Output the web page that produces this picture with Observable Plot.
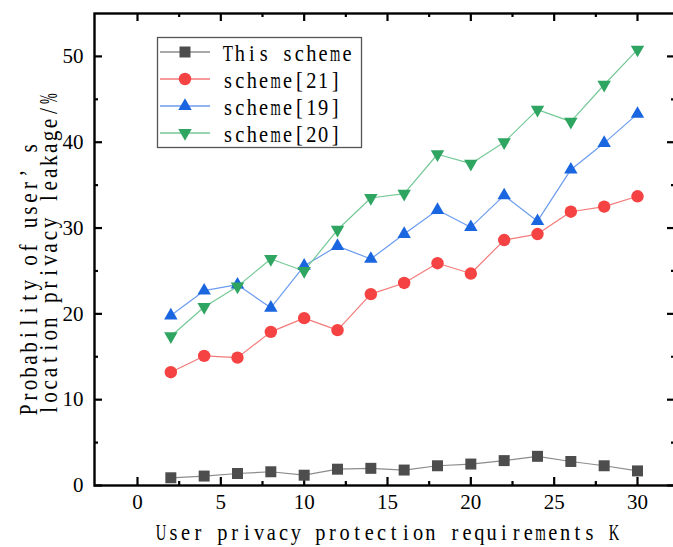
<!DOCTYPE html>
<html><head><meta charset="utf-8">
<script src="https://cdn.jsdelivr.net/npm/d3@7"></script>
<script src="https://cdn.jsdelivr.net/npm/@observablehq/plot@0.6"></script>
<style>body{margin:0;background:#fff} #chart{width:673px;height:547px;overflow:hidden}</style>
</head><body><div id="chart"></div>
<script>
const K = [2,4,6,8,10,12,14,16,18,20,22,24,26,28,30];
const thisScheme = [0.9,1.1,1.4,1.6,1.2,1.9,2.0,1.8,2.3,2.5,2.9,3.4,2.8,2.3,1.7];
const scheme21 = [13.2,15.1,14.9,17.9,19.5,18.1,22.3,23.6,25.9,24.7,28.6,29.3,31.9,32.5,33.7];
const scheme19 = [19.8,22.7,23.4,20.7,25.6,27.9,26.4,29.3,32.1,30.1,33.8,30.8,36.8,39.9,43.3];
const scheme20 = [17.4,20.8,23.2,26.4,25.0,29.8,33.5,34.0,38.6,37.5,40.0,43.8,42.4,46.7,50.8];
const seriesNames = ["This scheme","scheme[21]","scheme[19]","scheme[20]"];
const seriesValues = [thisScheme, scheme21, scheme19, scheme20];
const markerColors = ["#4d4d4d","#f54343","#1a66e0","#2fa562"];
const lineColors = ["#8c8c8c","#f47a7a","#6c9cef","#74c996"];
const symbols = ["square","circle","triangle","triangle"];
const rotations = [0,0,0,180];
const radii = [6.2,6.2,5.0,5.0];
const xMajor = [0,5,10,15,20,25,30];
const xMinor = [2.5,7.5,12.5,17.5,22.5,27.5];
const yMajor = [0,10,20,30,40,50];
const yMinor = [5,15,25,35,45];
const xTitle = "User privacy protection requirements K";
const yTitle = ["Probability of user\u2019s", "location privacy leakage/%"];

const W = 673, H = 547, mL = 94, mR = -2, mT = 13, mB = 62;
const iW = W - mL - mR, iH = H - mT - mB;

const data = seriesNames.flatMap((s, i) => K.map((k, j) => ({k, v: seriesValues[i][j], s, i})));

const tickMarks = [
  Plot.tickX(xMajor, {x: d => d, insetTop: iH - 8, strokeWidth: 2.2}),
  Plot.tickX(xMinor, {x: d => d, insetTop: iH - 4, strokeWidth: 2.2}),
  Plot.tickX(xMajor, {x: d => d, insetBottom: iH - 8, strokeWidth: 2.2}),
  Plot.tickX(xMinor, {x: d => d, insetBottom: iH - 4, strokeWidth: 2.2}),
  Plot.tickY(yMajor, {y: d => d, insetRight: iW - 8, strokeWidth: 2.2}),
  Plot.tickY(yMinor, {y: d => d, insetRight: iW - 4, strokeWidth: 2.2}),
  Plot.tickY(yMajor, {y: d => d, insetLeft: iW - 8, strokeWidth: 2.2}),
  Plot.tickY(yMinor, {y: d => d, insetLeft: iW - 4, strokeWidth: 2.2})
];

const plot = Plot.plot({
  width: W, height: H, marginLeft: mL, marginRight: mR, marginTop: mT, marginBottom: mB,
  style: {fontFamily: "Liberation Serif", fontSize: "21px", color: "#000", background: "#fff"},
  x: {domain: [-2.58, 32.28]},
  y: {domain: [0, 55]},
  marks: [
    Plot.frame({stroke: "#000", strokeWidth: 2.4}),
    ...tickMarks,
    Plot.axisX({ticks: xMajor, tickSize: 0, tickPadding: 9, label: null, tickFormat: d => d}),
    Plot.axisY({ticks: yMajor, tickSize: 0, tickPadding: 11, label: null, tickFormat: d => d}),
    ...seriesNames.map((s, i) => Plot.line(data.filter(d => d.i === i), {x: "k", y: "v", stroke: lineColors[i], strokeWidth: 1.2})),
    ...seriesNames.map((s, i) => Plot.dot(data.filter(d => d.i === i), {x: "k", y: "v", symbol: symbols[i], r: radii[i], rotate: rotations[i], fill: markerColors[i], stroke: "none"}))
  ]
});
document.getElementById("chart").appendChild(plot);

const svg = d3.select(plot);
const SX = 0.85;
// one text per string; each glyph sits centred in a fixed-width cell (like a half-width CJK font)
function cellText(parent, str, transform, cell, size) {
  const style = `font-family:'Liberation Serif';font-size:${size}px;fill:#000;text-anchor:start`;
  const g = parent.append("g").attr("transform", transform + ` scale(${SX},1)`);
  const maxW = 0.86 * cell / SX;
  const probe = g.append("text").attr("style", style);
  const t = g.append("text").attr("y", 0).attr("style", style);
  let c = 0;
  for (const ch of str) {
    if (ch !== " ") {
      probe.text(ch);
      let w = probe.node().getComputedTextLength();
      const tooWide = w > maxW;
      if (tooWide) w = maxW;
      const ts = t.append("tspan").attr("x", (c + 0.5) * cell / SX - w / 2).text(ch);
      if (tooWide) ts.attr("textLength", maxW).attr("lengthAdjust", "spacingAndGlyphs");
    }
    c += ch === "\u2019" ? 2 : 1;
  }
  probe.remove();
  return g;
}
// x title
cellText(svg, xTitle, "translate(155,540)", 12.24, 24);
// y title (rotated, both lines start at the same bottom point)
cellText(svg, yTitle[0], "translate(37,416) rotate(-90)", 12.45, 25);
cellText(svg, yTitle[1], "translate(57,416) rotate(-90)", 12.45, 25);
// legend
const lg = svg.append("g");
lg.append("rect").attr("x", 157.5).attr("y", 37.5).attr("width", 204).attr("height", 110)
  .attr("fill", "#fff").attr("stroke", "#555").attr("stroke-width", 1.3);
const rowsY = [52, 79, 106, 133];
const symMap = {square: d3.symbolSquare, circle: d3.symbolCircle, triangle: d3.symbolTriangle};
seriesNames.forEach((s, i) => {
  const y = rowsY[i];
  lg.append("line").attr("x1", 160).attr("x2", 210).attr("y1", y).attr("y2", y)
    .attr("stroke", lineColors[i]).attr("stroke-width", 1.5);
  lg.append("path").attr("d", d3.symbol(symMap[symbols[i]], Math.PI * radii[i] * radii[i])())
    .attr("transform", `translate(185,${y}) rotate(${rotations[i]})`).attr("fill", markerColors[i]);
  cellText(lg, s, `translate(222,${y + 8.5})`, 11.9, 24);
});
</script>
</body></html>
